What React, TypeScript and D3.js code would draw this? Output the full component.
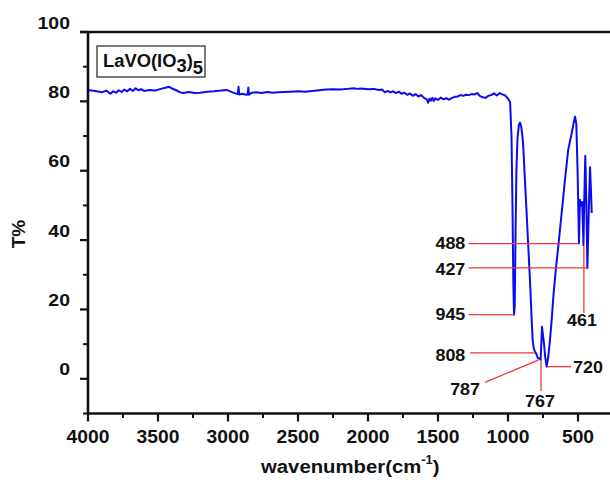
import React from "react";
import * as d3 from "d3";

// ---------- data ----------
const wavenumbers: number[] = [
  4000, 3950, 3900, 3870, 3840, 3820, 3800, 3780, 3760, 3740, 3720, 3700, 3680, 3660, 3640, 3620,
  3600, 3560, 3520, 3480, 3440, 3420, 3400, 3370, 3340, 3320, 3280, 3240, 3200, 3150, 3100, 3050,
  3010, 2980, 2950, 2930, 2925, 2920, 2900, 2870, 2860, 2855, 2850, 2830, 2800, 2760, 2720, 2680,
  2640, 2600, 2550, 2500, 2450, 2400, 2350, 2300, 2250, 2200, 2150, 2100, 2080, 2050, 2000, 1960,
  1920, 1900, 1880, 1860, 1840, 1820, 1800, 1780, 1760, 1740, 1720, 1700, 1680, 1660, 1640, 1620,
  1600, 1580, 1570, 1560, 1550, 1540, 1530, 1520, 1500, 1480, 1460, 1440, 1420, 1400, 1380, 1360,
  1340, 1320, 1300, 1280, 1260, 1240, 1220, 1200, 1180, 1160, 1140, 1120, 1100, 1080, 1060, 1040,
  1020, 1000, 985, 975, 968, 962, 957, 952, 946, 940, 932, 922, 914, 905, 897, 891,
  880, 867, 855, 843, 833, 824, 815, 808, 798, 787, 775, 767, 757, 750, 743, 735,
  724, 712, 700, 688, 676, 660, 641, 620, 593, 570, 545, 530, 521, 512, 503, 493,
  486, 478, 470, 461, 455, 448, 440, 433, 422, 414, 408, 402,
];
const transmittance: number[] = [
  83.3, 83.0, 82.6, 83.1, 82.2, 82.9, 82.5, 83.2, 82.7, 83.4, 82.9, 83.6, 83.0, 83.8, 83.2, 83.5,
  83.0, 83.3, 83.1, 83.6, 84.0, 84.2, 83.7, 83.2, 82.6, 82.4, 82.7, 82.4, 82.5, 82.8, 82.9, 83.1,
  83.3, 82.8, 82.3, 82.1, 84.2, 82.0, 82.2, 81.9, 82.0, 84.0, 81.9, 82.5, 82.6, 82.4, 82.7, 82.5,
  82.6, 82.7, 82.8, 82.9, 82.8, 83.0, 83.2, 83.4, 83.5, 83.4, 83.6, 83.8, 83.6, 83.7, 83.5, 83.6,
  83.3, 83.4, 82.6, 83.0, 82.6, 82.9, 82.4, 82.8, 82.2, 82.5, 81.9, 82.3, 81.6, 82.1, 81.4, 81.8,
  81.0, 80.6, 79.6, 80.8, 80.2, 81.0, 80.1, 80.9, 80.4, 81.1, 80.6, 80.9, 80.5, 81.0, 81.3, 81.4,
  81.8, 81.6, 81.9, 81.8, 82.1, 82.0, 82.4, 81.5, 81.2, 81.0, 81.6, 81.8, 82.3, 81.7, 82.4, 82.0,
  81.7, 80.8, 79.8, 70.0, 50.0, 28.0, 18.5, 21.0, 42.0, 60.0, 69.5, 73.3, 73.9, 72.6, 70.0, 67.0,
  58.0, 47.8, 38.0, 28.5, 19.0, 11.2, 8.6, 7.9, 7.2, 6.0, 5.8, 5.5, 15.0, 12.5, 10.2, 6.5,
  3.5, 6.5, 11.2, 17.0, 23.7, 31.0, 38.1, 46.5, 57.4, 66.0, 70.8, 74.0, 75.6, 73.5, 60.0, 39.1,
  51.6, 50.0, 51.0, 38.6, 52.0, 64.3, 50.0, 31.9, 50.0, 61.0, 55.0, 47.8,
];

const xTickValues: number[] = [4000, 3500, 3000, 2500, 2000, 1500, 1000, 500];
const xMinorValues: number[] = [3750, 3250, 2750, 2250, 1750, 1250, 750];
const yTickValues: number[] = [0, 20, 40, 60, 80, 100];
const yMinorValues: number[] = [-10, 10, 30, 50, 70, 90];

// peak annotations: label, line points [w, T], label anchor [w, T], text anchor
const annLabels: string[] = ["488", "427", "945", "808", "787", "767", "720", "461"];
const annLines: [number, number][][] = [
  [[1282, 39.0], [493, 39.0]],
  [[1282, 32.0], [430, 32.0]],
  [[1282, 18.5], [957, 18.5]],
  [[1271, 7.5], [807, 7.5]],
  [[1164, -1.0], [784, 5.4]],
  [[764, 5.5], [764, -3.5]],
  [[722, 3.5], [550, 3.5]],
  [[458, 38.4], [458, 19.0]],
];
const annLabelPos: [number, number][] = [
  [1305, 39.0], [1305, 31.5], [1305, 18.5], [1305, 6.8], [1200, -3.1], [772, -6.6], [535, 3.3], [472, 16.9],
];
const annAnchors: string[] = ["end", "end", "end", "end", "end", "middle", "start", "middle"];

// ---------- chart ----------
const W = 610;
const H = 486;
const FONT = "'Liberation Sans', Arial, Helvetica, sans-serif";

export default function App() {
  const x = d3.scaleLinear().domain([4000, 250]).range([88, 613]);
  const y = d3.scaleLinear().domain([-10, 100]).range([413.5, 32]);

  const pts: [number, number][] = wavenumbers.map((w, i) => [w, transmittance[i]]);
  const line = d3
    .line<[number, number]>()
    .x((d) => x(d[0]))
    .y((d) => y(d[1]));

  const xl = x(4000);
  const yb = y(-10);
  const yt = y(100);

  return (
    <svg
      width={W}
      height={H}
      style={{ position: "absolute", left: 0, top: 0, background: "#fff" }}
      fontFamily={FONT}
    >
      <defs>
        <clipPath id="plotclip">
          <rect x={xl} y={yt - 2} width={W - xl} height={yb - yt + 2} />
        </clipPath>
      </defs>

      {/* spectrum */}
      <path
        d={line(pts) || ""}
        fill="none"
        stroke="#0b0bf2"
        strokeWidth={2}
        strokeLinejoin="round"
        clipPath="url(#plotclip)"
      />

      {/* annotations */}
      {annLines.map((seg, i) => (
        <polyline
          key={"al" + i}
          points={seg.map((p) => `${x(p[0])},${y(p[1])}`).join(" ")}
          fill="none"
          stroke="#ee3a3a"
          strokeWidth={1.3}
        />
      ))}
      {annLabels.map((lab, i) => (
        <text
          key={"at" + i}
          transform={`translate(${x(annLabelPos[i][0])},${y(annLabelPos[i][1])}) scale(1.12,1)`}
          dy="0.36em"
          textAnchor={annAnchors[i]}
          fontSize={16}
          fontWeight="bold"
          fill="#111"
        >
          {lab}
        </text>
      ))}

      {/* frame */}
      <line x1={xl - 8} x2={W} y1={yt} y2={yt} stroke="#111" strokeWidth={2.4} />
      <line x1={xl} x2={xl} y1={yt} y2={yb + 1} stroke="#111" strokeWidth={2.6} />
      <line x1={xl - 1} x2={W} y1={yb} y2={yb} stroke="#111" strokeWidth={2.6} />

      {/* y ticks */}
      {yTickValues.map((v) => (
        <g key={"yt" + v}>
          <line x1={xl - 8} x2={xl} y1={y(v)} y2={y(v)} stroke="#111" strokeWidth={2.2} />
          <text
            transform={`translate(70,${y(v) - 3.5}) scale(1.18,1)`}
            textAnchor="end"
            fontSize={16.5}
            fontWeight="bold"
            fill="#111"
          >
            {v}
          </text>
        </g>
      ))}
      {yMinorValues.map((v) => (
        <line key={"ym" + v} x1={xl - 5} x2={xl} y1={y(v)} y2={y(v)} stroke="#111" strokeWidth={2} />
      ))}

      {/* x ticks */}
      {xTickValues.map((v) => (
        <g key={"xt" + v}>
          <line x1={x(v)} x2={x(v)} y1={yb} y2={yb + 8} stroke="#111" strokeWidth={2.2} />
          <text
            transform={`translate(${x(v)},442.5) scale(1.1,1)`}
            textAnchor="middle"
            fontSize={17.5}
            fontWeight="bold"
            fill="#111"
          >
            {v}
          </text>
        </g>
      ))}
      {xMinorValues.map((v) => (
        <line key={"xm" + v} x1={x(v)} x2={x(v)} y1={yb} y2={yb + 4.5} stroke="#111" strokeWidth={2} />
      ))}

      {/* axis titles */}
      <text
        transform="translate(261,473) scale(1.07,1)"
        fontSize={19}
        fontWeight="bold"
        fill="#111"
      >
        wavenumber(cm
        <tspan fontSize={12} dy={-9}>-1</tspan>
        <tspan fontSize={19} dy={9}>)</tspan>
      </text>
      <text
        transform="translate(25,234) rotate(-90)"
        textAnchor="middle"
        fontSize={19}
        fontWeight="bold"
        fill="#111"
      >
        T%
      </text>

      {/* legend box */}
      <rect x={97} y={46} width={108} height={31} fill="#fff" stroke="#222" strokeWidth={1.2} />
      <text transform="translate(103,67) scale(1.05,1)" fontSize={17.5} fontWeight="bold" fill="#111">
        LaVO(IO
        <tspan dy={5}>3</tspan>
        <tspan dy={-5}>)</tspan>
        <tspan dy={7}>5</tspan>
      </text>
    </svg>
  );
}
